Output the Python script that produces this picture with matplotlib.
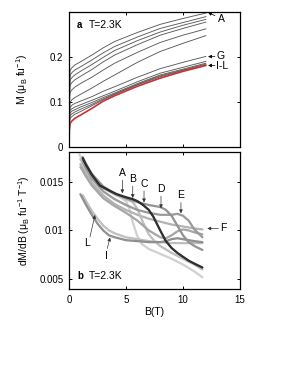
import matplotlib
matplotlib.use("Agg")
import matplotlib.pyplot as plt

plt.rcParams["font.family"] = ["Liberation Sans", "DejaVu Sans"]
plt.rcParams["mathtext.fontset"] = "custom"
plt.rcParams["mathtext.rm"] = "Liberation Sans"
plt.rcParams["mathtext.it"] = "Liberation Sans:italic"

# ---- panel a: magnetisation curves M(B) ----
b_mag = [0, 0.03, 0.1, 0.25, 0.5, 1, 2, 3, 4, 6, 8, 10, 12]
m_A = [0, .128, .171, .176, .182, .189, .204, .220, .234, .254, .272, .285, .297]
m_B = [0, .120, .160, .165, .171, .178, .193, .209, .223, .244, .263, .276, .289]
m_C = [0, .112, .149, .154, .160, .168, .183, .199, .214, .236, .255, .270, .283]
m_D = [0, .104, .138, .143, .149, .157, .172, .189, .204, .227, .248, .263, .277]
m_E = [0, .092, .122, .127, .133, .141, .155, .171, .186, .210, .232, .248, .262]
m_F = [0, .075, .100, .105, .110, .117, .131, .146, .160, .188, .212, .230, .247]
m_G = [0, .067, .089, .093, .097, .102, .112, .124, .134, .155, .174, .188, .201]
m_H = [0, .062, .082, .085, .089, .094, .104, .114, .124, .145, .164, .177, .190]
m_I = [0, .057, .076, .080, .083, .089, .099, .110, .120, .141, .160, .173, .186]
m_J = [0, .052, .070, .074, .078, .084, .095, .107, .118, .139, .158, .171, .184]
m_K = [0, .048, .064, .068, .073, .079, .092, .105, .117, .138, .156, .170, .182]
m_L = [0, .038, .053, .058, .064, .071, .086, .102, .114, .135, .153, .168, .181]

# ---- panel b: dM/dB curves ----
b_dA = [0.9, 1.2, 1.6, 2, 2.5, 3, 3.5, 4, 4.5, 5, 5.3, 5.6, 6, 6.4, 7, 8, 9, 10, 11, 11.7]
d_A = [.0178, .0172, .0164, .0157, .0150, .0145, .0141, .0137, .0134, .0130, .0122,
       .0108, .0094, .0086, .0081, .0076, .0071, .0065, .0058, .0052]
b_dB = [1.0, 1.5, 2, 2.5, 3, 4, 5, 5.6, 6, 6.5, 7, 7.5, 8, 9, 10, 11, 11.7]
d_B = [.0173, .0163, .0155, .0148, .0143, .0137, .0132, .0129, .0122, .0108, .0096,
       .0089, .0084, .0077, .0071, .0065, .0060]
b_dC = [1.2, 1.5, 2, 2.7, 3.5, 4.2, 5, 5.6, 6, 6.5, 7, 7.4, 8, 8.5, 9, 9.5, 10, 10.5, 11, 11.7]
d_C = [.0174, .0167, .0157, .0146, .0141, .0137, .0134, .0132, .0130, .0126, .0121,
       .0114, .0100, .0089, .0082, .0077, .0073, .0069, .0066, .0062]
b_dD = [1.2, 1.5, 2, 3, 4, 5, 6, 7, 7.5, 8, 8.5, 9, 9.5, 10, 10.5, 11, 11.7]
d_D = [.0175, .0168, .0158, .0145, .0138, .0133, .0129, .0126, .0125, .0124, .0121,
       .0115, .0105, .0095, .0088, .0084, .0080]
b_dE = [1.2, 1.5, 2, 3, 4, 5, 6, 7, 8, 8.5, 9, 9.5, 10, 10.5, 11, 11.7]
d_E = [.0171, .0163, .0153, .0140, .0132, .0126, .0121, .0118, .0116, .0116, .0116,
       .0117, .0115, .0110, .0101, .0093]
b_dF = [1.0, 1.5, 2, 3, 4, 5, 6, 7, 8, 9, 10, 11, 11.7]
d_F = [.0168, .0158, .0149, .0136, .0127, .0121, .0116, .0112, .0109, .0106, .0104,
       .0102, .0101]
b_dG = [1.0, 1.5, 2, 3, 4, 5, 6, 7, 8, 8.5, 9, 9.5, 10, 10.5, 11, 11.7]
d_G = [.0165, .0155, .0146, .0133, .0125, .0118, .0110, .0100, .0093, .0092, .0095,
       .0099, .0101, .0100, .0098, .0096]
b_dI = [1.0, 1.5, 2, 2.5, 3, 3.5, 4, 5, 6, 7, 8, 8.5, 9, 9.5, 10, 11, 11.7]
d_I = [.0137, .0126, .0116, .0107, .0100, .0095, .0093, .0090, .0089, .0088, .0088,
       .0089, .0091, .0092, .0091, .0089, .0088]
b_dL = [1.2, 1.6, 2, 2.5, 3, 3.5, 4, 5, 6, 7, 8, 9, 10, 11, 11.7]
d_L = [.0136, .0128, .0120, .0112, .0105, .0100, .0097, .0093, .0091, .0089, .0088,
       .0087, .0087, .0087, .0087]

TICK_FS = 7
LABEL_FS = 7.5


def _style(ax):
    ax.tick_params(direction="in", length=2.5, width=0.7, top=True, right=True,
                   labelsize=TICK_FS, pad=4)
    for s in ax.spines.values():
        s.set_linewidth(0.9)
    ax.set_xlim(0, 15)
    ax.set_xticks([0, 5, 10, 15])


def _arrow(ax, tip, tail, color="k"):
    ax.annotate("", xy=tip, xytext=tail,
                arrowprops=dict(arrowstyle="-|>", color=color, lw=0.5,
                                mutation_scale=5, shrinkA=0, shrinkB=0))


fig = plt.figure(figsize=(2.91, 3.76), dpi=100)
ax1 = fig.add_axes([69 / 291, 1 - 147.3 / 376, 171 / 291, 135.6 / 376])
ax2 = fig.add_axes([69 / 291, 1 - 289 / 376, 171 / 291, 136.7 / 376])

# panel a
for m in [m_A, m_B, m_C, m_D, m_E, m_F, m_G, m_H, m_I, m_J, m_K]:
    ax1.plot(b_mag, m, color="#5a5a5a", lw=0.65)
ax1.plot(b_mag, m_L, color="#d03030", lw=1.2)
_style(ax1)
ax1.set_ylim(0, 0.3)
ax1.set_yticks([0, 0.1, 0.2])
ax1.set_yticklabels(["0", "0.1", "0.2"])
ax1.set_xticklabels([])
ax1.set_ylabel("M (μ$_\\mathrm{B}$ fu$^{-1}$)", fontsize=LABEL_FS)
ax1.yaxis.set_label_coords(-0.228, 0.5)
ax1.text(0.047, 0.902, "a", transform=ax1.transAxes, fontsize=7, fontweight="bold",
         va="center")
ax1.text(0.117, 0.902, "T=2.3K", transform=ax1.transAxes, fontsize=7.5, va="center")
_arrow(ax1, (12.2, 0.2984), (12.8, 0.2911))
ax1.text(13.4, 0.2844, "A", fontsize=7.5, ha="center", va="center")
_arrow(ax1, (12.2, 0.2007), (12.8, 0.2007))
ax1.text(13.3, 0.2015, "G", fontsize=7.5, ha="center", va="center")
_arrow(ax1, (12.2, 0.181), (12.8, 0.181))
ax1.text(13.45, 0.179, "I-L", fontsize=7.5, ha="center", va="center")

# panel b
curves_b = [
    (b_dA, d_A, "#cfcfcf"),
    (b_dL, d_L, "#bcbcbc"),
    (b_dF, d_F, "#b0b0b0"),
    (b_dB, d_B, "#bababa"),
    (b_dG, d_G, "#a2a2a2"),
    (b_dI, d_I, "#8a8a8a"),
    (b_dE, d_E, "#959595"),
    (b_dD, d_D, "#8e8e8e"),
    (b_dC, d_C, "#222222"),
]
for bx, dy, col in curves_b:
    ax2.plot(bx, dy, color=col, lw=1.6, solid_capstyle="round",
             solid_joinstyle="round")
    ax2.plot(bx, dy, color="white", lw=0.35, alpha=0.4, ls=(0, (1, 1.5)))
_style(ax2)
ax2.set_ylim(0.004, 0.018)
ax2.set_yticks([0.005, 0.01, 0.015])
ax2.set_yticklabels(["0.005", "0.01", "0.015"])
ax2.set_xlabel("B(T)", fontsize=LABEL_FS)
ax2.xaxis.set_label_coords(0.5, -0.13)
ax2.set_ylabel("dM/dB (μ$_\\mathrm{B}$ fu$^{-1}$ T$^{-1}$)", fontsize=LABEL_FS)
ax2.yaxis.set_label_coords(-0.216, 0.5)
ax2.text(0.047, 0.095, "b", transform=ax2.transAxes, fontsize=7, fontweight="bold",
         va="center")
ax2.text(0.117, 0.095, "T=2.3K", transform=ax2.transAxes, fontsize=7.5, va="center")

arrow_marks = [
    ("A", 4.68, 0.0159, 0.0138),
    ("B", 5.59, 0.01528, 0.01332),
    ("C", 6.58, 0.0148, 0.01287),
    ("D", 8.07, 0.01425, 0.01227),
    ("E", 9.82, 0.0136, 0.01175),
]
for lab, bx, ty, tip in arrow_marks:
    ax2.text(bx, ty, lab, fontsize=7.5, ha="center", va="center")
    _arrow(ax2, (bx, tip), (bx, ty - 0.00075), color="#333333")
_arrow(ax2, (12.13, 0.0102), (13.1, 0.0102), color="#333333")
ax2.text(13.55, 0.0102, "F", fontsize=7.5, ha="center", va="center")
_arrow(ax2, (2.28, 0.01158), (1.84, 0.00934), color="#333333")
ax2.text(1.55, 0.0087, "L", fontsize=7.5, ha="center", va="center")
_arrow(ax2, (3.6, 0.00928), (3.36, 0.00815), color="#333333")
ax2.text(3.25, 0.0074, "I", fontsize=7.5, ha="center", va="center")

fig.savefig("out.png", dpi=100)
